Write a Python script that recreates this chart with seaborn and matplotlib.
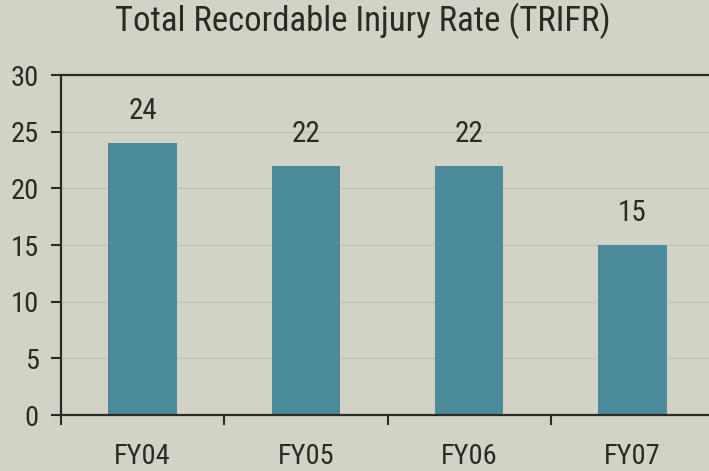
import matplotlib
matplotlib.use("Agg")
import matplotlib.pyplot as plt
import matplotlib.font_manager as fm
import seaborn as sns
import pandas as pd

categories = ["FY04", "FY05", "FY06", "FY07"]
values = [24, 22, 22, 15]
yticks = [0, 5, 10, 15, 20, 25, 30]
title = "Total Recordable Injury Rate (TRIFR)"

bg = "#d3d2c7"
bar_color = "#4a8a9a"
txt = "#2b2b24"

sns.set_theme(style="white")
names = {f.name for f in fm.fontManager.ttflist}
fam = "DejaVu Sans"
for cand in ["Nimbus Sans Narrow", "Liberation Sans Narrow", "Arimo Narrow", "Roboto Condensed",
             "Archivo Narrow", "PT Sans Narrow", "Open Sans Condensed"]:
    if cand in names:
        fam = cand
        break
plt.rcParams["font.family"] = [fam, "DejaVu Sans"]
plt.rcParams["font.weight"] = 350

df = pd.DataFrame({"cat": categories, "val": values})

fig = plt.figure(figsize=(7.09, 4.71), dpi=100, facecolor=bg)
ax = fig.add_axes([61/709, 56/471, 653/709, 340/471])
ax.set_facecolor(bg)

sns.barplot(data=df, x="cat", y="val", color=bar_color, width=0.42, ax=ax,
            saturation=1, linewidth=0)
for p, v in zip(ax.patches, values):
    ax.text(p.get_x() + p.get_width() / 2, v + 2.1, str(v), ha="center", va="baseline",
            fontsize=21, color=txt)

ax.set_ylim(0, 30)
ax.set_xlim(-0.5, len(categories) - 0.5)
ax.set_yticks(yticks)
ax.set_yticklabels([str(t) for t in yticks], fontsize=20.5, color=txt)
ax.yaxis.grid(True, color="#c3c2b7", linewidth=1)
ax.set_axisbelow(True)

ax.set_xticks([i - 0.5 for i in range(len(categories) + 1)])
ax.set_xticklabels([])
ax.set_xticks(range(len(categories)), minor=True)
ax.set_xticklabels(categories, minor=True, fontsize=20.5, color=txt)
ax.tick_params(axis="x", which="major", direction="out", length=7, width=1.5, color=txt, bottom=True)
ax.tick_params(axis="x", which="minor", length=0, pad=20, bottom=True)
ax.tick_params(axis="y", direction="out", length=7, width=1.5, color=txt, left=True, pad=9)
ax.set_xlabel("")
ax.set_ylabel("")

for s in ["left", "bottom", "top"]:
    ax.spines[s].set_visible(True)
    ax.spines[s].set_color(txt)
    ax.spines[s].set_linewidth(1.6)
ax.spines["right"].set_visible(False)

fig.text(363/709, 1 - 21/471, title, ha="center", va="center", fontsize=25, color=txt)

fig.savefig("out.png", dpi=100, facecolor=bg)
